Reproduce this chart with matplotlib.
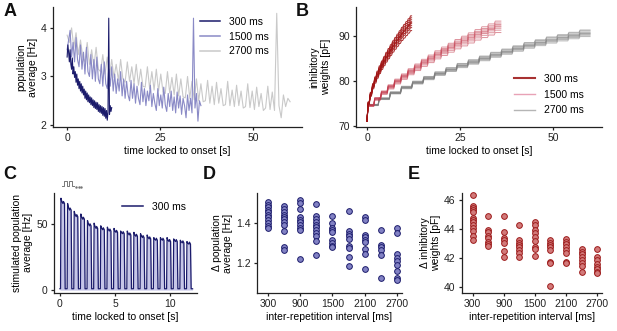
import numpy as np
import matplotlib
matplotlib.use('Agg')
import matplotlib.pyplot as plt
from matplotlib.lines import Line2D

plt.rcParams['font.family'] = ['Liberation Sans', 'DejaVu Sans']
plt.rcParams['font.size'] = 7.5
plt.rcParams['axes.linewidth'] = 0.9
plt.rcParams['xtick.major.size'] = 2.5
plt.rcParams['ytick.major.size'] = 2.5
plt.rcParams['xtick.major.width'] = 0.9
plt.rcParams['ytick.major.width'] = 0.9
plt.rcParams['xtick.major.pad'] = 2
plt.rcParams['ytick.major.pad'] = 2
plt.rcParams['axes.labelpad'] = 2

# ---------------- Panel A: population average [Hz] ----------------
a_labels = ['300 ms', '1500 ms', '2700 ms']
a_dt_300 = 0.2
a_rate_300 = [3.40, 3.65, 3.50, 3.30, 3.55, 3.25, 3.15, 3.38, 3.05, 3.20,
              2.98, 3.10, 2.88, 3.05, 2.82, 2.95, 2.75, 2.90, 2.70, 2.85,
              2.66, 2.80, 2.62, 2.74, 2.55, 2.70, 2.52, 2.66, 2.48, 2.62,
              2.46, 2.58, 2.42, 2.56, 2.40, 2.52, 2.36, 2.50, 2.34, 2.47,
              2.32, 2.46, 2.28, 2.42, 2.26, 2.40, 2.24, 2.38, 2.20, 2.36,
              2.18, 2.34, 2.14, 2.30, 2.10, 2.26, 4.20, 2.22, 2.40, 2.28,
              2.36]
a_dt_1500 = 0.4
a_rate_1500 = [3.55, 3.75, 3.95, 3.40, 3.70, 3.30, 3.80, 3.35, 3.20, 3.65,
               3.15, 3.50, 3.05, 3.60, 3.10, 3.00, 3.45, 2.95, 3.35, 2.90,
               3.40, 2.95, 2.85, 3.25, 2.80, 3.30, 2.85, 2.75, 3.15, 2.80,
               3.20, 2.70, 3.05, 2.65, 2.95, 2.70, 3.10, 2.60, 2.95, 2.55,
               2.90, 2.62, 2.50, 2.92, 2.55, 2.85, 2.45, 2.80, 2.55, 2.42,
               2.88, 2.48, 2.75, 2.40, 2.70, 2.50, 2.82, 2.38, 2.65, 2.45,
               2.30, 2.75, 2.40, 2.62, 2.35, 2.78, 2.42, 2.28, 2.65, 2.38,
               2.70, 2.30, 2.58, 2.25, 2.68, 2.35, 2.60, 2.22, 2.55, 2.40,
               2.15, 2.62, 2.30, 2.55, 2.25, 4.20, 2.35, 2.65, 2.08, 2.50,
               2.40]
a_dt_2700 = 0.6
a_rate_2700 = [3.85, 3.70, 4.00, 3.60, 3.90, 3.45, 3.75, 3.40, 3.30, 3.70,
               3.25, 3.55, 3.20, 3.60, 3.15, 3.10, 3.45, 3.05, 3.40, 3.00,
               3.35, 2.98, 3.25, 2.92, 3.35, 2.95, 2.88, 3.30, 2.90, 3.20,
               2.85, 3.25, 2.82, 3.15, 2.80, 2.78, 3.20, 2.75, 3.10, 2.72,
               3.15, 2.70, 3.05, 2.68, 2.65, 3.10, 2.66, 2.98, 2.62, 3.05,
               2.60, 2.95, 2.58, 2.56, 3.00, 2.55, 2.90, 2.52, 2.95, 2.50,
               2.85, 2.48, 2.50, 2.92, 2.45, 2.80, 2.42, 2.88, 2.45, 2.75,
               2.40, 2.42, 2.90, 2.40, 2.72, 2.38, 2.82, 2.40, 2.70, 2.35,
               2.38, 2.85, 2.36, 2.70, 2.32, 2.78, 2.38, 2.65, 2.30, 2.35,
               2.80, 2.32, 2.68, 2.30, 4.30, 2.40, 2.15, 2.62, 2.38, 2.55,
               2.48]

# ---------------- Panel B: inhibitory weights [pF] ----------------
b_start = 71.0
b_periods = [0.6, 1.8, 3.0]          # stimulus + interval [s]
b_stim_dur = 0.3
b_levels_300 = [75.0, 77.0, 78.8, 80.2, 81.4, 82.5, 83.5, 84.4, 85.3, 86.1,
                86.9, 87.7, 88.4, 89.1, 89.8, 90.5, 91.1, 91.7, 92.3, 92.9]
b_levels_1500 = [74.5, 76.0, 77.4, 78.7, 79.9, 81.0, 82.1, 83.1, 84.1, 85.0,
                 85.9, 86.7, 87.5, 88.3, 89.0, 89.7, 90.4, 91.0, 91.6, 92.2]
b_levels_2700 = [74.6, 76.0, 77.3, 78.5, 79.6, 80.6, 81.6, 82.5, 83.4, 84.2,
                 85.0, 85.8, 86.5, 87.2, 87.9, 88.5, 89.1, 89.6, 90.1, 90.6]
b_trials_300 = [0.92, 0.95, 0.97, 0.99, 1.00, 1.01, 1.03, 1.05, 1.07]
b_trials_1500 = [0.93, 0.955, 0.975, 0.99, 1.00, 1.015, 1.03, 1.05]
b_trials_2700 = [0.96, 0.975, 0.985, 0.995, 1.00, 1.01, 1.025, 1.035]

# ---------------- Panel C: stimulated population ----------------
c_period = 0.6
c_baseline = 1.0
c_peaks = [70, 66, 60, 58, 53, 51, 49, 48, 47, 45,
           45, 44, 43, 42, 40, 40, 40, 39, 38, 37]
c_ends = [66, 61, 56, 54, 49, 47, 46, 45, 44, 43,
          42, 41, 40, 39, 38, 38, 37, 37, 36, 35]

# ---------------- Panels D, E ----------------
intervals = [300, 600, 900, 1200, 1500, 1800, 2100, 2400, 2700]
d_delta_rate = [
    [1.503, 1.492, 1.48, 1.467, 1.453, 1.442, 1.43, 1.417, 1.40, 1.387, 1.375],
    [1.483, 1.47, 1.453, 1.442, 1.43, 1.42, 1.403, 1.392, 1.358, 1.28, 1.267],
    [1.513, 1.50, 1.47, 1.43, 1.417, 1.403, 1.392, 1.375, 1.363, 1.22],
    [1.497, 1.433, 1.42, 1.403, 1.392, 1.38, 1.367, 1.35, 1.337, 1.308, 1.242],
    [1.433, 1.40, 1.375, 1.363, 1.353, 1.317, 1.30, 1.287, 1.28],
    [1.462, 1.358, 1.347, 1.333, 1.32, 1.287, 1.275, 1.23, 1.187],
    [1.43, 1.417, 1.342, 1.33, 1.317, 1.303, 1.27, 1.247, 1.17],
    [1.363, 1.292, 1.28, 1.267, 1.242, 1.125],
    [1.375, 1.35, 1.247, 1.225, 1.208, 1.192, 1.158, 1.125, 1.117],
]
e_delta_weight = [
    [46.33, 45.63, 45.47, 45.3, 45.16, 44.77, 44.6, 44.47, 44.3, 44.07, 43.84, 43.49, 43.26],
    [44.93, 43.95, 43.77, 43.53, 43.37, 43.14, 42.98, 42.84],
    [44.88, 43.77, 43.37, 43.26, 43.02, 42.51, 42.05],
    [44.3, 43.26, 43.07, 42.91, 42.74, 42.56, 42.37, 42.05],
    [44.47, 44.3, 43.95, 43.72, 43.44, 43.21, 42.79, 42.6, 42.14],
    [43.26, 43.07, 42.91, 42.74, 42.56, 41.74, 41.63, 40.05],
    [43.3, 43.14, 42.98, 42.74, 42.56, 42.33, 41.74, 41.63],
    [42.6, 42.44, 42.28, 42.09, 41.86, 41.67, 41.44, 41.05],
    [42.6, 42.05, 41.86, 41.58, 41.4, 41.21, 41.05, 40.93],
]

# ---------------- styling ----------------
W, H = 617, 331
fig = plt.figure(figsize=(W / 100, H / 100), dpi=100)


def rect(l, t, r, b):
    return [l / W, 1 - b / H, (r - l) / W, (b - t) / H]


def style(ax):
    for s in ['top', 'right']:
        ax.spines[s].set_visible(False)
    for s in ['left', 'bottom']:
        ax.spines[s].set_color('#222222')
    ax.tick_params(colors='#222222', labelcolor='#222222')


blue_dark = '#1b1b6b'
blue_mid = '#8a8ac6'
grey_light = '#c9c9c9'

# ---- A ----
axA = fig.add_axes(rect(53, 7, 302, 127))
style(axA)
for vals, dt, col in [(a_rate_2700, a_dt_2700, grey_light),
                      (a_rate_1500, a_dt_1500, blue_mid),
                      (a_rate_300, a_dt_300, blue_dark)]:
    t = np.arange(len(vals)) * dt
    axA.plot(t, vals, color=col, lw=0.8)
axA.set_xlim(-3.8, 63.2)
axA.set_ylim(1.96, 4.43)
axA.set_xticks([0, 25, 50])
axA.set_yticks([2, 3, 4])
axA.set_xlabel('time locked to onset [s]')
axA.set_ylabel('population\naverage [Hz]')
hA = [Line2D([], [], color=c, lw=1.1) for c in [blue_dark, blue_mid, grey_light]]
axA.legend(hA, a_labels, loc='upper left', frameon=False,
           bbox_to_anchor=(200 / W, 1 - 17 / H), bbox_transform=fig.transFigure,
           borderpad=0, borderaxespad=0, handlelength=1.9, handletextpad=0.9,
           labelspacing=0.45)

# ---- B ----
axB = fig.add_axes(rect(356, 7, 602, 126.5))
style(axB)
red_dark = '#a01414'
b_sets = [(b_levels_2700, b_periods[2], b_trials_2700, '#7c7c7c', 0.55),
          (b_levels_1500, b_periods[1], b_trials_1500, '#c23a4c', 0.55),
          (b_levels_300, b_periods[0], b_trials_300, red_dark, 0.9)]
for levels, period, trials, col, al in b_sets:
    for f in trials:
        tt = [0.0]
        yy = [b_start]
        for k, lev in enumerate(levels):
            val = b_start + (lev - b_start) * f
            t0 = k * period
            tt += [t0 + b_stim_dur, t0 + period]
            yy += [val, val]
        axB.plot(tt, yy, color=col, lw=0.7, alpha=al)
axB.set_xlim(-2.96, 63.2)
axB.set_ylim(69.8, 96.4)
axB.set_xticks([0, 25, 50])
axB.set_yticks([70, 80, 90])
axB.set_xlabel('time locked to onset [s]')
axB.set_ylabel('inhibitory\nweights [pF]', labelpad=5)
hB = [Line2D([], [], color=c, lw=w) for c, w in
      [('#a83232', 1.5), ('#e8a2b6', 1.0), ('#b5b5b5', 1.0)]]
axB.legend(hB, a_labels, loc='upper left', frameon=False,
           bbox_to_anchor=(514 / W, 1 - 74 / H), bbox_transform=fig.transFigure,
           borderpad=0, borderaxespad=0, handlelength=2.0, handletextpad=0.9,
           labelspacing=0.55)

# ---- C ----
axC = fig.add_axes(rect(54, 193, 197, 292.7))
style(axC)
rel_t = [0.0, 0.04, 0.10, 0.22, 0.27, 0.36, 0.42]
tc, yc = [0.0], [c_baseline]
for k, (pk, en) in enumerate(zip(c_peaks, c_ends)):
    t0 = 0.05 + k * c_period
    vals = [c_baseline, pk, (pk + en) / 2, en, en + 1.5, en, c_baseline]
    tc += [t0 + r for r in rel_t]
    yc += vals
tc.append(len(c_peaks) * c_period)
yc.append(c_baseline)
axC.fill_between(tc, 0, yc, color='#c6c6e8', lw=0)
axC.plot(tc, yc, color=blue_dark, lw=0.9)
axC.set_xlim(-0.54, 12.4)
axC.set_ylim(-2, 74)
axC.set_xticks([0, 5, 10])
axC.set_yticks([0, 50])
axC.set_xlabel('time locked to onset [s]')
axC.set_ylabel('stimulated population\naverage [Hz]')
axC.legend([Line2D([], [], color=blue_dark, lw=1.1)], ['300 ms'], loc='upper left',
           frameon=False, bbox_to_anchor=(122 / W, 1 - 202 / H),
           bbox_transform=fig.transFigure, borderpad=0, borderaxespad=0,
           handlelength=2.0, handletextpad=0.9)

# stimulus icon above C
ix = [62, 64, 64, 67, 67, 69, 69, 72, 72, 74]
iy = [186, 186, 181, 181, 186, 186, 181, 181, 186, 186]
fig.add_artist(Line2D([x / W for x in ix], [1 - y / H for y in iy],
                      transform=fig.transFigure, color='#777777', lw=0.7))
fig.add_artist(Line2D([76 / W, 78.5 / W, 81 / W], [1 - 186.5 / H] * 3,
                      transform=fig.transFigure, color='#777777', lw=0,
                      marker='.', markersize=1.5))

# ---- D ----
axD = fig.add_axes(rect(257, 193, 402, 293))
style(axD)
for iv, vals in zip(intervals, d_delta_rate):
    axD.scatter([iv] * len(vals), vals, s=17, facecolor='#8282c4',
                edgecolor=blue_dark, linewidth=0.7, zorder=3, clip_on=False)
axD.set_xlim(95, 2795)
axD.set_ylim(1.05, 1.55)
axD.set_xticks([300, 900, 1500, 2100, 2700])
axD.set_yticks([1.2, 1.4])
axD.set_xlabel('inter-repetition interval [ms]')
axD.set_ylabel('\u0394 population\naverage [Hz]')

# ---- E ----
axE = fig.add_axes(rect(462, 193, 602, 293))
style(axE)
for iv, vals in zip(intervals, e_delta_weight):
    axE.scatter([iv] * len(vals), vals, s=17, facecolor='#d27a7a',
                edgecolor='#9c1a1a', linewidth=0.7, zorder=3, clip_on=False)
axE.set_xlim(95, 2795)
axE.set_ylim(39.58, 46.5)
axE.set_xticks([300, 900, 1500, 2100, 2700])
axE.set_yticks([40, 42, 44, 46])
axE.set_xlabel('inter-repetition interval [ms]')
axE.set_ylabel('\u0394 inhibitory\nweights [pF]')

# panel letters
for letter, x, y in [('A', 4, 3), ('B', 296, 3), ('C', 3, 166),
                     ('D', 203, 166), ('E', 408, 166)]:
    fig.text(x / W, 1 - y / H, letter, fontsize=13, fontweight='bold',
             ha='left', va='top', color='#111111')

fig.savefig('out.png', dpi=100)
